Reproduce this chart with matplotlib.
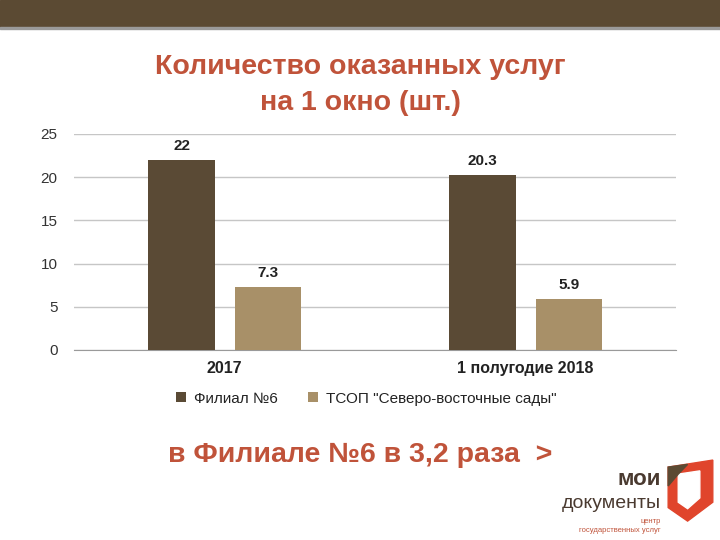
import numpy as np
import matplotlib.pyplot as plt
from matplotlib.patches import Rectangle, Polygon

categories = ['2017', '1 полугодие 2018']
series_names = ['Филиал №6', 'ТСОП "Северо-восточные сады"']
filial = [22, 20.3]
tsop = [7.3, 5.9]
value_labels = [['22', '20.3'], ['7.3', '5.9']]

dark = '#5a4a35'
light = '#a89068'
red = '#c0533a'

plt.rcParams['font.family'] = ['Liberation Sans', 'DejaVu Sans']

fig = plt.figure(figsize=(7.2, 5.4), dpi=100)

# top band
fig.patches.append(Rectangle((0, 0.950), 1, 0.050, transform=fig.transFigure,
                             color='#5b4a33', zorder=0))
fig.patches.append(Rectangle((0, 0.946), 1, 0.004, transform=fig.transFigure,
                             color='#9a9a9a', zorder=0))

fig.text(0.5, 0.876, 'Количество оказанных услуг', ha='center', va='center',
         fontsize=20.5, fontweight='bold', color=red)
fig.text(0.5, 0.810, 'на 1 окно (шт.)', ha='center', va='center',
         fontsize=20.5, fontweight='bold', color=red)

ax = fig.add_axes([0.103, 0.352, 0.836, 0.400])
x = np.arange(len(categories))
w = 0.22
off = 0.143
b1 = ax.bar(x - off, filial, w, color=dark, label=series_names[0], zorder=3)
b2 = ax.bar(x + off, tsop, w, color=light, label=series_names[1], zorder=3)

for bars, labs in zip([b1, b2], value_labels):
    for b, t in zip(bars, labs):
        ax.text(b.get_x() + b.get_width() / 2, b.get_height() + 0.8, t,
                ha='center', va='bottom', fontsize=11, fontweight='bold',
                color='#222222')

ax.set_xlim(-0.5, 1.5)
ax.set_ylim(0, 25)
ax.set_yticks([0, 5, 10, 15, 20, 25])
ax.yaxis.grid(True, color='#c6c6c6', linewidth=1, zorder=0)
ax.set_xticks(x)
ax.set_xticklabels(categories, fontsize=11.5, fontweight='bold', color='#222222')
ax.tick_params(axis='x', length=0, pad=8)
ax.tick_params(axis='y', length=0, pad=12, labelsize=11, labelcolor='#333333')
for s in ['top', 'right', 'left']:
    ax.spines[s].set_visible(False)
ax.spines['bottom'].set_color('#9a9a9a')

leg = ax.legend(loc='upper center', bbox_to_anchor=(0.485, -0.13), ncol=2,
                frameon=False, fontsize=11, handlelength=0.65, handleheight=0.65,
                columnspacing=2.0, handletextpad=0.5)
for t in leg.get_texts():
    t.set_color('#222222')

fig.text(0.5, 0.157, 'в Филиале №6 в 3,2 раза  >', ha='center', va='center',
         fontsize=20.5, fontweight='bold', color=red)

# logo
fig.text(0.918, 0.112, 'мои', ha='right', va='center', fontsize=16,
         fontweight='bold', color='#4a3a30')
fig.text(0.918, 0.068, 'документы', ha='right', va='center', fontsize=14,
         color='#4a3a30')
fig.text(0.918, 0.035, 'центр', ha='right', va='center', fontsize=5.5,
         color=red)
fig.text(0.918, 0.017, 'государственных услуг', ha='right', va='center',
         fontsize=5.5, color=red)
fig.patches.append(Polygon([[0.928, 0.135], [0.99, 0.148], [0.99, 0.07],
                            [0.955, 0.035], [0.928, 0.06]],
                           closed=True, transform=fig.transFigure,
                           color='#e0452c', zorder=1))
fig.patches.append(Polygon([[0.942, 0.122], [0.972, 0.128], [0.972, 0.078],
                            [0.955, 0.058], [0.942, 0.07]],
                           closed=True, transform=fig.transFigure,
                           color='white', zorder=2))
fig.patches.append(Polygon([[0.928, 0.135], [0.955, 0.14], [0.942, 0.122],
                            [0.928, 0.10]],
                           closed=True, transform=fig.transFigure,
                           color='#5b4a33', zorder=3))

fig.savefig('out.png', dpi=100)
